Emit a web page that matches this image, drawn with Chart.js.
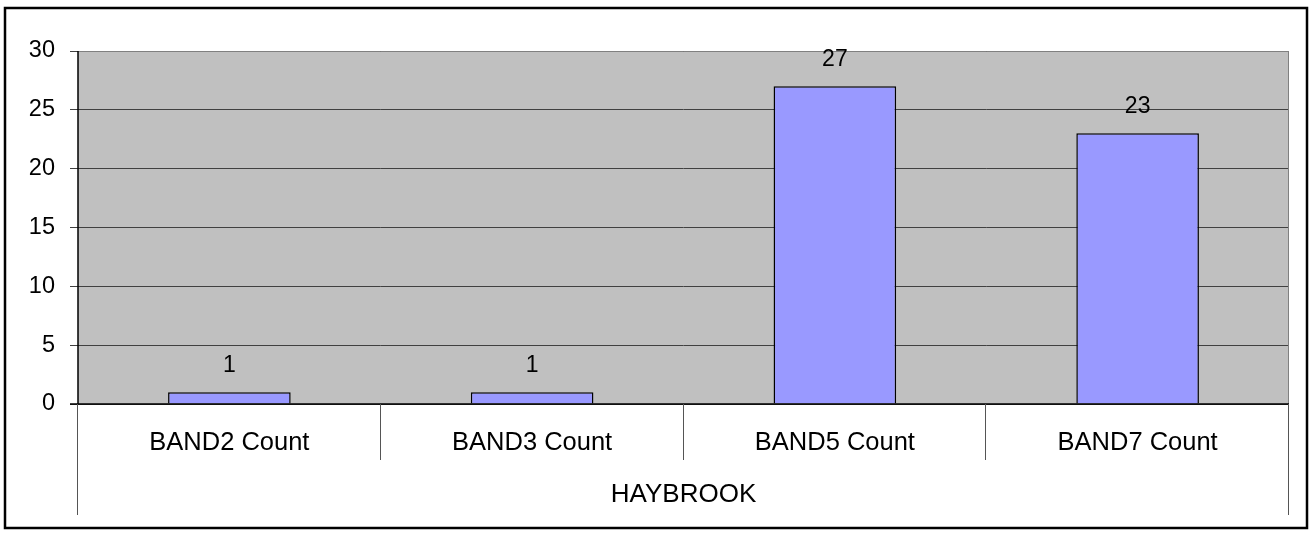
<!DOCTYPE html>
<html>
<head>
<meta charset="utf-8">
<script src="https://cdn.jsdelivr.net/npm/chart.js@4"></script>
<style>
  html, body { margin: 0; padding: 0; background: #fff; }
  #wrap { position: relative; width: 1311px; height: 535px; }
  canvas { display: block; }
</style>
</head>
<body>
<div id="wrap"><canvas id="c" width="1311" height="535"></canvas></div>
<script>
// Band counts for the HAYBROOK group
const categories = ['BAND2 Count', 'BAND3 Count', 'BAND5 Count', 'BAND7 Count'];
const counts = [1, 1, 27, 23];
const groupLabel = 'HAYBROOK';
const yTicks = [0, 5, 10, 15, 20, 25, 30];

const FONT = '"Liberation Sans", Arial, sans-serif';

// Grey plot background, outer frame, value labels and the grouped category axis
const decor = {
  id: 'decor',
  beforeDraw(chart) {
    const { ctx, chartArea: a } = chart;
    ctx.save();
    ctx.fillStyle = '#C0C0C0';
    ctx.fillRect(a.left, a.top, a.right - a.left, a.bottom - a.top);
    ctx.restore();
  },
  afterDraw(chart) {
    const { ctx, chartArea: a, scales } = chart;
    ctx.save();
    // plot border (top/right)
    ctx.strokeStyle = '#808080';
    ctx.lineWidth = 1;
    ctx.beginPath();
    ctx.moveTo(a.left, a.top + 0.5);
    ctx.lineTo(a.right, a.top + 0.5);
    ctx.moveTo(a.right - 0.5, a.top);
    ctx.lineTo(a.right - 0.5, a.bottom);
    ctx.stroke();

    // axis lines
    ctx.strokeStyle = '#000';
    ctx.lineWidth = 1.5;
    ctx.beginPath();
    ctx.moveTo(a.left, a.top);
    ctx.lineTo(a.left, a.bottom);
    ctx.moveTo(a.left - 8, a.bottom);
    ctx.lineTo(a.right, a.bottom);
    ctx.stroke();

    // category separators
    const n = categories.length;
    const step = (a.right - a.left) / n;
    ctx.strokeStyle = '#555';
    ctx.lineWidth = 1;
    ctx.beginPath();
    for (let i = 0; i <= n; i++) {
      const px = Math.round(a.left + i * step) - 0.5;
      const end = (i === 0 || i === n) ? 515 : 460;
      ctx.moveTo(px, a.bottom);
      ctx.lineTo(px, end);
    }
    ctx.stroke();

    // group label
    ctx.fillStyle = '#000';
    ctx.font = '26px ' + FONT;
    ctx.textAlign = 'center';
    ctx.textBaseline = 'middle';
    ctx.fillText(groupLabel, (a.left + a.right) / 2, 495);

    // value labels above bars
    ctx.font = '23px ' + FONT;
    const meta = chart.getDatasetMeta(0);
    meta.data.forEach((bar, i) => {
      ctx.textBaseline = 'alphabetic';
      ctx.fillText(String(counts[i]), bar.x, bar.y - 20);
    });

    // outer frame
    ctx.strokeStyle = '#000';
    ctx.lineWidth = 2.5;
    ctx.strokeRect(5, 8, 1302, 520);
    ctx.restore();
  }
};

new Chart(document.getElementById('c'), {
  type: 'bar',
  data: {
    labels: categories,
    datasets: [{
      data: counts,
      backgroundColor: '#9999FF',
      borderColor: '#000',
      borderWidth: 1.5,
      barPercentage: 0.405,
      categoryPercentage: 1
    }]
  },
  options: {
    responsive: false,
    animation: false,
    devicePixelRatio: 1,
    layout: { padding: { left: 0, right: 22, top: 51, bottom: 0 } },
    plugins: { legend: { display: false }, tooltip: { enabled: false } },
    scales: {
      x: {
        grid: { display: false },
        border: { display: false },
        ticks: { color: '#000', font: { family: FONT, size: 25.5 }, padding: 16, maxRotation: 0 },
        afterFit(s) { s.height = 131; }
      },
      y: {
        min: 0, max: 30,
        afterBuildTicks(s) { s.ticks = yTicks.map(v => ({ value: v })); },
        grid: { color: '#404040', lineWidth: 1, tickLength: 8, tickColor: '#404040' },
        border: { display: false },
        ticks: { color: '#000', font: { family: FONT, size: 23.5 }, padding: 15 },
        afterFit(s) { s.width = 78; }
      }
    }
  },
  plugins: [decor]
});
</script>
</body>
</html>
